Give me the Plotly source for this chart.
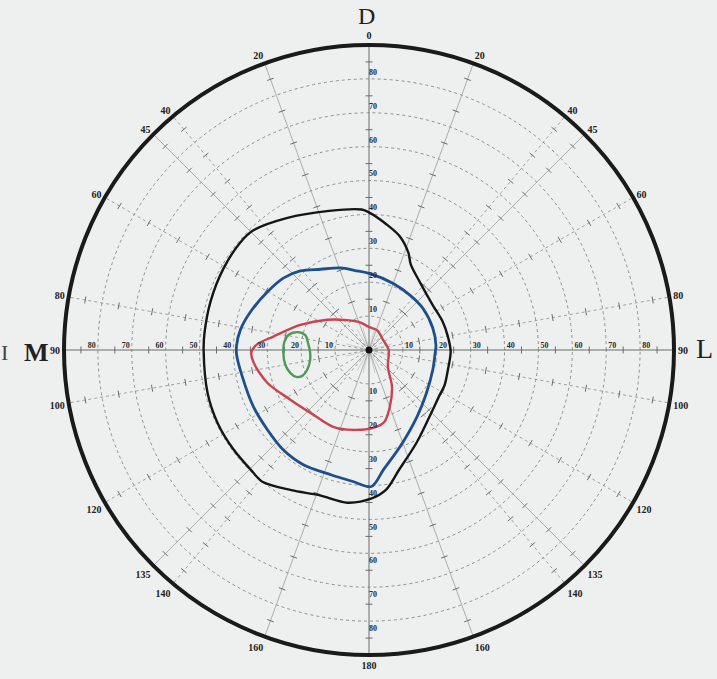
import plotly.graph_objects as go

# Field limits, degrees from fixation (theta: 0 = up, clockwise)
black_theta = [0, 8, 15, 22, 26, 37, 55, 69, 80, 91, 104, 115, 122, 138, 153, 166, 173, 179,
               188, 199, 209, 219, 224, 234, 244, 255, 270, 276, 287, 299, 310, 316, 328, 344, 357]
black_r = [40.6, 37.4, 34.8, 31.0, 28.1, 25.0, 23.0, 23.3, 23.6, 24.1, 24.0, 24.6, 24.7, 26.6,
           30.8, 36.5, 41.5, 43.8, 45.5, 45.3, 47.3, 50.0, 49.7, 49.6, 49.6, 49.3, 48.8, 48.8,
           48.9, 49.2, 49.5, 49.1, 45.9, 42.7, 41.5]

blue_theta = [0, 20, 37, 52, 71, 86, 94, 107, 127, 144, 162, 173, 179, 187, 197, 210, 221, 232,
              244, 258, 268, 272, 279, 288, 300, 310, 319, 329, 341, 350]
blue_r = [22.6, 20.9, 20.2, 20.1, 19.9, 19.8, 19.5, 19.7, 21.2, 24.2, 29.9, 35.5, 40.3, 39.1,
          38.5, 39.0, 38.8, 38.1, 38.0, 38.2, 39.1, 39.1, 38.4, 36.7, 34.5, 33.0, 30.9, 27.8,
          25.6, 23.8]

red_theta = [0, 22, 55, 90, 132, 148, 160, 168, 177, 191, 205, 221, 238, 252, 264, 269, 273,
             278, 290, 306, 324, 342]
red_r = [6.8, 6.3, 5.1, 5.8, 7.5, 12.8, 17.9, 21.7, 23.0, 24.0, 25.0, 25.2, 27.5, 31.5, 34.3,
         34.7, 33.0, 28.5, 21.6, 15.2, 10.9, 8.6]

green_theta = [280.5, 284.0, 283.2, 276.5, 268.1, 260.4, 252.1, 248.8, 249.7, 253.8, 260.5,
               268.7, 275.4]
green_r = [24.2, 21.8, 19.3, 18.1, 17.4, 17.6, 19.2, 21.1, 22.9, 24.2, 25.1, 25.3, 25.1]

# Outer scale (meridians)
meridian_vals = [0, 20, 40, 45, 60, 80, 90, 100, 120, 135, 140, 160, 180,
                 200, 220, 225, 240, 260, 270, 280, 300, 315, 320, 340]
meridian_text = ["0", "20", "40", "45", "60", "80", "90", "100", "120", "135", "140", "160", "180",
                 "160", "140", "135", "120", "100", "90", "80", "60", "45", "40", "20"]

main_spokes = [0, 90, 180, 270]
solid_spokes = [20, 45, 135, 160, 200, 225, 315, 340]
dotted_spokes = [40, 60, 80, 100, 120, 140, 220, 240, 260, 280, 300, 320]

circle_vals = [10, 20, 30, 40, 50, 60, 70, 80]
circle_labels = ["10", "20", "30", "40", "50", "60", "70", "80"]

BG = "#eef0f0"
INK = "#1a1a1a"
SERIF = "Liberation Serif"


def closed(t, r):
    return list(t) + [t[0]], list(r) + [r[0]]


def spoke_trace(angles, color, width, dash, r_end=90):
    rr, tt = [], []
    for a in angles:
        rr += [0, r_end, None]
        tt += [a, a, None]
    return go.Scatterpolar(r=rr, theta=tt, mode="lines", hoverinfo="skip", showlegend=False,
                           line=dict(color=color, width=width, dash=dash))


def label_trace(r, theta, pos):
    return go.Scatterpolar(r=r, theta=theta, text=circle_labels, mode="text",
                           textposition=pos, hoverinfo="skip", showlegend=False,
                           textfont=dict(family=SERIF, size=8, color="#2a2a2a",
                                         weight="bold"))


fig = go.Figure()

# short rays around the fixation point
all_spokes = set(main_spokes + solid_spokes + dotted_spokes)
fig.add_trace(spoke_trace([a for a in range(0, 360, 15) if a not in all_spokes],
                          "#a8a8a8", 0.5, "solid", r_end=7))

fig.add_trace(spoke_trace(dotted_spokes, "#8c8c8c", 0.8, "dot"))
fig.add_trace(spoke_trace(solid_spokes, "#9a9a9a", 0.8, "solid"))
fig.add_trace(spoke_trace(main_spokes, "#6a6a6a", 1.0, "solid"))

# cross ticks on each meridian, midway between the circles
tick_r, tick_t = [], []
for a in sorted(all_spokes):
    for v in range(15, 90, 10):
        tick_r.append(v)
        tick_t.append(a)
fig.add_trace(go.Scatterpolar(
    r=tick_r, theta=tick_t, mode="markers", hoverinfo="skip", showlegend=False,
    marker=dict(symbol="line-ew", size=5, angle=tick_t,
                line=dict(color="#6a6a6a", width=1))))

# field boundaries
for t, r, col, w in [(black_theta, black_r, "#151515", 2.4),
                     (blue_theta, blue_r, "#1d4f8f", 2.8),
                     (red_theta, red_r, "#c8424f", 2.4),
                     (green_theta, green_r, "#4f9a55", 2.4)]:
    tt, rr = closed(t, r)
    fig.add_trace(go.Scatterpolar(r=rr, theta=tt, mode="lines", hoverinfo="skip",
                                  showlegend=False,
                                  line=dict(color=col, width=w, shape="spline", smoothing=0.9)))

# fixation point
fig.add_trace(go.Scatterpolar(r=[0], theta=[0], mode="markers", hoverinfo="skip",
                              showlegend=False, marker=dict(color="#111", size=7)))

# degree labels along the vertical and horizontal meridians
fig.add_trace(label_trace([v + 1.8 for v in circle_vals], [0] * 8, "middle right"))
fig.add_trace(label_trace([v + 2.4 for v in circle_vals], [180] * 8, "middle right"))
fig.add_trace(label_trace([v + 1.8 for v in circle_vals], [90] * 8, "top center"))
fig.add_trace(label_trace([v + 1.8 for v in circle_vals], [270] * 8, "top center"))

W, H = 717, 679
cx, cy, R = 369, 350, 305


def letter(text, x, y, size, bold=False, color="#222"):
    f = dict(family=SERIF, size=size, color=color)
    if bold:
        f["weight"] = "bold"
    return dict(text=text, x=x / W, y=1 - y / H, xref="paper", yref="paper",
                xanchor="center", yanchor="middle", showarrow=False, font=f,
                borderpad=0)


fig.update_layout(
    width=W, height=H,
    margin=dict(l=0, r=0, t=0, b=0),
    paper_bgcolor=BG,
    plot_bgcolor=BG,
    polar=dict(
        domain=dict(x=[(cx - R) / W, (cx + R) / W], y=[(H - cy - R) / H, (H - cy + R) / H]),
        bgcolor=BG,
        angularaxis=dict(direction="clockwise", rotation=90,
                         tickmode="array", tickvals=meridian_vals, ticktext=meridian_text,
                         showgrid=False, showline=True, linecolor=INK, linewidth=4,
                         ticks="", tickfont=dict(family=SERIF, size=10, color="#222",
                                                 weight="bold")),
        radialaxis=dict(range=[0, 90], tickmode="array", tickvals=circle_vals,
                        showticklabels=False, showline=False, ticks="",
                        showgrid=True, gridcolor="#8f8f8f", gridwidth=1, griddash="dot"),
    ),
    annotations=[
        letter("D", 367, 16, 24),
        letter("M", 36, 352, 26, bold=True),
        letter("L", 704, 349, 28),
        letter("I", 4, 352, 22, color="#444"),
    ],
)

fig.write_html("out.html")
